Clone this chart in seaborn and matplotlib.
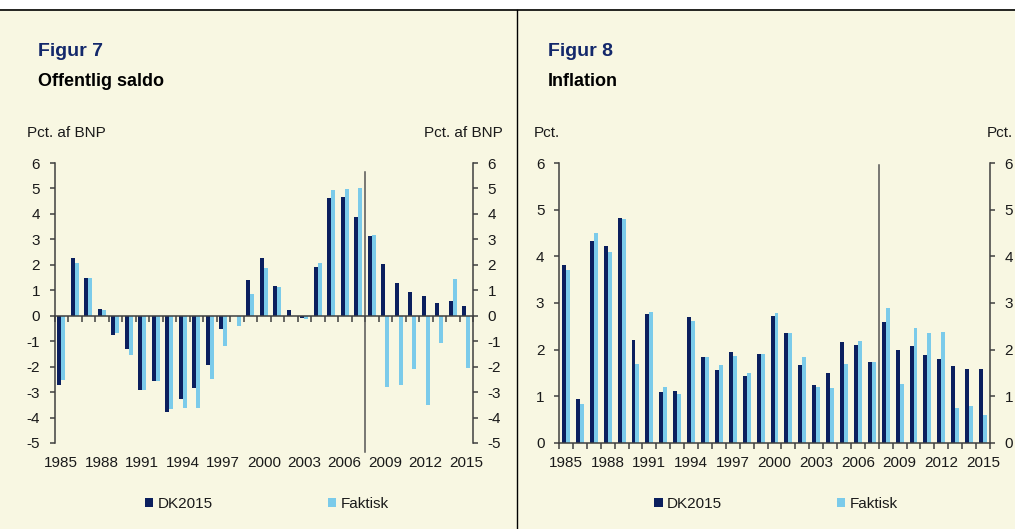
import matplotlib
matplotlib.use("Agg")
import numpy as np
import pandas as pd
import matplotlib.pyplot as plt
import seaborn as sns
from matplotlib.patches import Patch, Rectangle
from matplotlib.lines import Line2D

years = list(range(1985, 2016))

# Figur 7 - offentlig saldo, pct. af BNP
saldo_dk = [-2.71, 2.28, 1.49, 0.26, -0.75, -1.31, -2.91, -2.55, -3.77, -3.29,
            -2.85, -1.93, -0.51, 0.0, 1.40, 2.25, 1.18, 0.22, -0.09, 1.91,
            4.62, 4.66, 3.88, 3.12, 2.04, 1.28, 0.92, 0.77, 0.51, 0.56, 0.37]
saldo_faktisk = [-2.54, 2.08, 1.48, 0.21, -0.68, -1.55, -2.93, -2.58, -3.67, -3.63,
                 -3.63, -2.49, -1.20, -0.39, 0.86, 1.89, 1.13, 0.0, -0.13, 2.06,
                 4.92, 4.98, 5.00, 3.16, -2.80, -2.74, -2.08, -3.51, -1.06, 1.45, -2.07]

# Figur 8 - inflation, pct.
infl_dk = [3.81, 0.94, 4.32, 4.22, 4.83, 2.21, 2.76, 1.09, 1.11, 2.71,
           1.84, 1.56, 1.96, 1.43, 1.90, 2.72, 2.35, 1.67, 1.24, 1.50,
           2.16, 2.09, 1.74, 2.59, 1.99, 2.07, 1.88, 1.79, 1.65, 1.59, 1.59]
infl_faktisk = [3.70, 0.84, 4.51, 4.10, 4.80, 1.69, 2.80, 1.19, 1.05, 2.61,
                1.84, 1.67, 1.86, 1.50, 1.90, 2.79, 2.35, 1.85, 1.19, 1.18,
                1.69, 2.19, 1.74, 2.90, 1.26, 2.47, 2.36, 2.38, 0.76, 0.79, 0.59]

series = ["DK2015", "Faktisk"]
NAVY = "#0b1f5e"
LIGHT = "#7bcbea"
CREAM = "#f8f7e2"
AXCOL = "#404040"
TXT = "#1a1a1a"
W, H = 1015, 529

plt.rcParams["font.family"] = ["Liberation Sans", "DejaVu Sans"]
plt.rcParams["axes.unicode_minus"] = False

fig = plt.figure(figsize=(W / 100, H / 100), dpi=100, facecolor=CREAM)


def fx(x):
    return x / W


def fy(y):
    return 1 - y / H


# white strip at the top, black rule and the divider between panels
fig.add_artist(Rectangle((0, fy(9)), 1, 1 - fy(9), transform=fig.transFigure,
                         facecolor="white", edgecolor="none"))
fig.add_artist(Line2D([0, 1], [fy(9.5), fy(9.5)], transform=fig.transFigure,
                      color="black", lw=1.2))
fig.add_artist(Line2D([fx(517), fx(517)], [fy(10), 0], transform=fig.transFigure,
                      color="black", lw=1.0))


def panel(rect, dk, fak, ylim, zero_axis, vline_span):
    ax = fig.add_axes(rect)
    ax.set_facecolor(CREAM)
    df = pd.DataFrame({"year": years * 2, "value": dk + fak,
                       "serie": [series[0]] * len(years) + [series[1]] * len(years)})
    sns.barplot(data=df, x="year", y="value", hue="serie", order=years,
                hue_order=series, palette=[NAVY, LIGHT], width=0.57,
                saturation=1, linewidth=0, errorbar=None, legend=False, ax=ax)
    ax.set_xlim(-0.5, len(years) - 0.5)
    ax.set_ylim(*ylim)
    ax.set_xlabel("")
    ax.set_ylabel("")

    for s in ["left", "right", "bottom"]:
        ax.spines[s].set_color(AXCOL)
        ax.spines[s].set_linewidth(1.1)
    ax.spines["top"].set_visible(False)
    if zero_axis:
        ax.spines["bottom"].set_position(("data", 0))

    ax.set_yticks(range(ylim[0], ylim[1] + 1))
    ax.tick_params(axis="y", left=True, right=True, labelleft=True, labelright=True,
                   length=3.5, width=1.1, color=AXCOL, labelsize=11,
                   labelcolor=TXT, pad=7)

    ax.set_xticks([])
    ax.set_xticks(np.arange(-0.5, len(years), 1), minor=True)
    ax.tick_params(axis="x", which="minor", length=4, width=1.1, color=AXCOL,
                   direction="out")

    sec = ax.secondary_xaxis("bottom")
    sec.set_xticks(range(0, len(years), 3), labels=[str(y) for y in years[::3]])
    sec.tick_params(length=0, pad=9.5, labelsize=11, labelcolor=TXT)
    sec.spines["bottom"].set_visible(False)

    xv = years.index(2008) - 0.5
    ax.axvline(xv, ymin=vline_span[0], ymax=vline_span[1], color="#555555",
               lw=1.1, clip_on=False)
    return ax


ax1 = panel([fx(54.5), fy(443), (473 - 54.5) / W, 280 / H],
            saldo_dk, saldo_faktisk, (-5, 6), True, (-0.033, 0.968))
ax2 = panel([fx(559), fy(443), (990 - 559) / W, 280 / H],
            infl_dk, infl_faktisk, (0, 6), False, (0.0, 0.992))

# titles
fig.text(fx(38), fy(52), "Figur 7", fontsize=14, fontweight="bold",
         color="#13286b", va="center")
fig.text(fx(38), fy(81), "Offentlig saldo", fontsize=13, fontweight="bold",
         color="black", va="center")
fig.text(fx(548), fy(52), "Figur 8", fontsize=14, fontweight="bold",
         color="#13286b", va="center")
fig.text(fx(548), fy(81), "Inflation", fontsize=13, fontweight="bold",
         color="black", va="center")

# unit labels
fig.text(fx(27), fy(133), "Pct. af BNP", fontsize=11, color=TXT, va="center")
fig.text(fx(503), fy(133), "Pct. af BNP", fontsize=11, color=TXT, va="center", ha="right")
fig.text(fx(534), fy(133), "Pct.", fontsize=11, color=TXT, va="center")
fig.text(fx(987), fy(133), "Pct.", fontsize=11, color=TXT, va="center")

handles = [Patch(facecolor=NAVY, label=series[0]), Patch(facecolor=LIGHT, label=series[1])]
for cx in (267, 776):
    fig.legend(handles=handles, loc="center", bbox_to_anchor=(fx(cx), fy(504)),
               ncol=2, frameon=False, fontsize=11, handlelength=0.55,
               handleheight=0.55, handletextpad=0.3, columnspacing=7.5,
               labelcolor=TXT)

fig.savefig("out.png", dpi=100, facecolor=CREAM)
